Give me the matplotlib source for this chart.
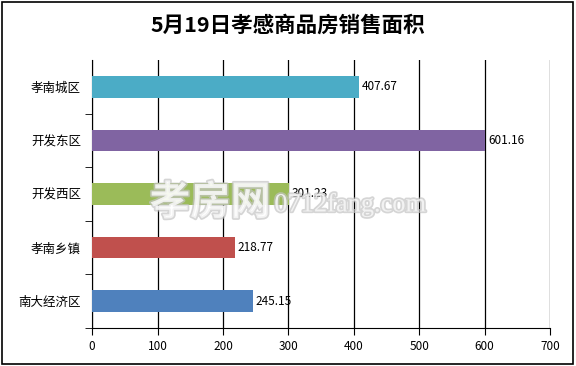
import matplotlib.pyplot as plt
from matplotlib import patheffects

plt.rcParams['font.family'] = ['Noto Sans CJK SC', 'DejaVu Sans']

# 数据 (从下到上)
districts = ['南大经济区', '孝南乡镇', '开发西区', '开发东区', '孝南城区']
areas = [245.15, 218.77, 301.23, 601.16, 407.67]
colors = ['#4f81bd', '#c0504d', '#9bbb59', '#8064a2', '#4bacc6']
xticks = [0, 100, 200, 300, 400, 500, 600, 700]

fig = plt.figure(figsize=(5.76, 3.66), dpi=100)
ax = fig.add_axes([0.16, 0.104, 0.795, 0.732])

pos = list(range(len(districts)))
ax.barh(pos, areas, height=0.4, color=colors, zorder=3)
for p, v in zip(pos, areas):
    ax.text(v + 4, p, f'{v:.2f}', va='center', ha='left', fontsize=8.5, zorder=5)

ax.set_xlim(0, 700)
ax.set_ylim(-0.5, len(districts) - 0.5)
ax.set_xticks(xticks)
ax.set_yticks(pos)
ax.set_yticklabels(districts, fontsize=9)
ax.set_yticks([p + 0.5 for p in pos[:-1]] + [-0.5], minor=True)
ax.tick_params(axis='y', which='major', length=0, pad=8)
ax.tick_params(axis='y', which='minor', length=5, direction='out', color='black')
ax.tick_params(axis='x', labelsize=8.5, length=5, direction='out')
ax.grid(axis='x', color='black', linewidth=0.9, zorder=1)
for s in ['top', 'right']:
    ax.spines[s].set_visible(False)
ax.spines['left'].set_color('black')
ax.spines['bottom'].set_color('black')

# 水印
wm = fig.text(0.365, 0.445, '孝房网', fontsize=29, color='white', alpha=0.7,
              ha='center', va='center', zorder=10, fontweight='bold')
wm.set_path_effects([patheffects.withStroke(linewidth=2.5, foreground='#c4c4c4')])
wm2 = fig.text(0.608, 0.44, '0712fang.com', fontsize=19, color='white', alpha=0.7,
               ha='center', va='center', zorder=10, family=['Liberation Serif'])
wm2.set_path_effects([patheffects.withStroke(linewidth=2.5, foreground='#c4c4c4')])

fig.text(0.5, 0.932, '5月19日孝感商品房销售面积', ha='center', va='center',
         fontsize=15.5, fontweight='bold')

# 外框
fig.patches.append(plt.Rectangle((0.004, 0.006), 0.99, 0.988, transform=fig.transFigure,
                                 fill=False, edgecolor='black', linewidth=1.2))

fig.savefig('out.png', dpi=100)
